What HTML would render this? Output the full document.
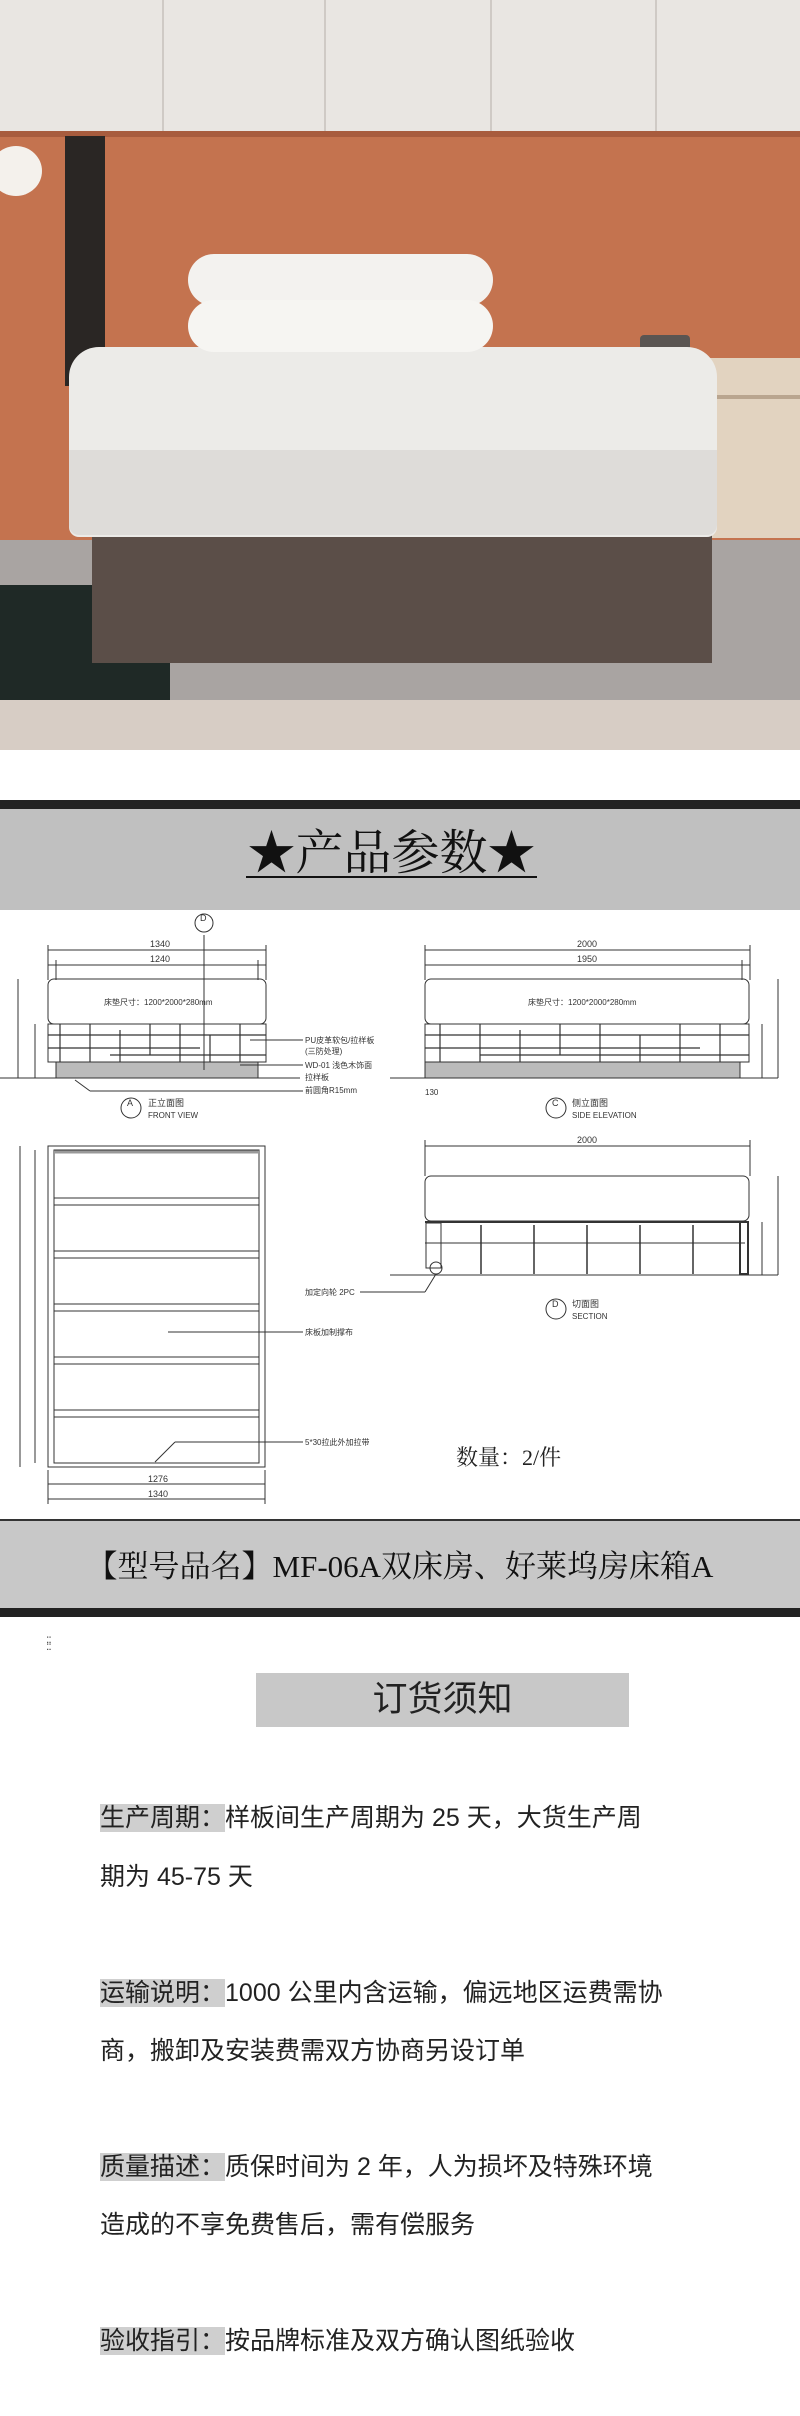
<!DOCTYPE html>
<html><head><meta charset="utf-8"><style>
*{margin:0;padding:0;box-sizing:border-box}
body{width:800px;height:2416px;background:#fff;position:relative;overflow:hidden;font-family:"Liberation Sans","Noto Sans CJK SC",sans-serif}
.a{position:absolute}
.serif{font-family:"Liberation Serif","Noto Serif CJK SC",serif}
.t{position:absolute;left:100px;font-size:25px;color:#222;white-space:nowrap;line-height:30px}
.hl{background:#cfcfcf}
</style></head><body>
<!-- photo -->
<div class="a" style="left:0;top:0;width:800px;height:750px;background:#c4734f;overflow:hidden">
 <div class="a" style="left:0;top:0;width:800px;height:131px;background:#e9e6e2"></div>
 <div class="a" style="left:162px;top:0;width:2px;height:131px;background:#cfcac5"></div>
 <div class="a" style="left:324px;top:0;width:2px;height:131px;background:#cfcac5"></div>
 <div class="a" style="left:490px;top:0;width:2px;height:131px;background:#cfcac5"></div>
 <div class="a" style="left:655px;top:0;width:2px;height:131px;background:#cfcac5"></div>
 <div class="a" style="left:0;top:131px;width:800px;height:6px;background:#a85c3e"></div>
 <div class="a" style="left:65px;top:136px;width:40px;height:250px;background:#2a2624"></div>
 <div class="a" style="left:-10px;top:146px;width:52px;height:50px;border-radius:50%;background:#f4f1ec"></div>
 <div class="a" style="left:593px;top:358px;width:207px;height:180px;background:#e2d3c0"></div>
 <div class="a" style="left:593px;top:395px;width:207px;height:4px;background:#b9a58f"></div>
 <div class="a" style="left:640px;top:335px;width:50px;height:25px;background:#5a5552;border-radius:4px"></div>
 <div class="a" style="left:0;top:540px;width:800px;height:210px;background:#a9a4a2"></div>
 <div class="a" style="left:0;top:585px;width:170px;height:115px;background:#1f2926"></div>
 <div class="a" style="left:0;top:700px;width:800px;height:50px;background:#d7cdc5"></div>
 <div class="a" style="left:92px;top:520px;width:620px;height:143px;background:#5b4e48"></div>
 <div class="a" style="left:69px;top:347px;width:648px;height:190px;background:#ecebe8;border-radius:30px 30px 10px 10px"></div>
 <div class="a" style="left:69px;top:450px;width:648px;height:85px;background:#dedcd9;border-radius:0 0 10px 10px"></div>
 <div class="a" style="left:188px;top:254px;width:305px;height:52px;background:#f3f2ef;border-radius:40px"></div>
 <div class="a" style="left:188px;top:300px;width:305px;height:52px;background:#f6f5f2;border-radius:40px"></div>
</div>
<!-- param header -->
<div class="a" style="left:0;top:800px;width:800px;height:9px;background:#222"></div>
<div class="a" style="left:0;top:809px;width:800px;height:101px;background:#c0c0c0"></div>
<div class="a serif" style="left:246px;top:826px;width:291px;text-align:center;font-size:48px;line-height:56px;color:#111;white-space:nowrap">★产品参数★</div>
<div class="a" style="left:246px;top:876px;width:291px;height:2px;background:#111"></div>
<!-- drawings -->
<svg class="a" style="left:0;top:0" width="800" height="1520" viewBox="0 0 800 1520" fill="none" stroke="#333" stroke-width="1" font-family="Liberation Sans, Noto Sans CJK SC, sans-serif" font-size="9">
 <g>
  <line x1="48" y1="950" x2="266" y2="950"/><line x1="48" y1="965" x2="266" y2="965"/>
  <line x1="48" y1="945" x2="48" y2="980"/><line x1="266" y1="945" x2="266" y2="980"/>
  <line x1="56" y1="960" x2="56" y2="980"/><line x1="258" y1="960" x2="258" y2="980"/>
  <text x="150" y="947" fill="#333" stroke="none">1340</text><text x="150" y="962" fill="#333" stroke="none">1240</text>
  <rect x="48" y="979" width="218" height="45" rx="6"/>
  <text x="104" y="1005" fill="#333" stroke="none" font-size="8">床垫尺寸：1200*2000*280mm</text>
  <rect x="48" y="1024" width="218" height="38"/>
  <g stroke-width="1.2"><line x1="60" y1="1024" x2="60" y2="1062"/><line x1="90" y1="1024" x2="90" y2="1062"/><line x1="120" y1="1030" x2="120" y2="1062"/><line x1="150" y1="1024" x2="150" y2="1055"/><line x1="180" y1="1024" x2="180" y2="1062"/><line x1="210" y1="1035" x2="210" y2="1062"/><line x1="240" y1="1024" x2="240" y2="1062"/>
  <line x1="48" y1="1035" x2="266" y2="1035"/><line x1="48" y1="1048" x2="200" y2="1048"/><line x1="110" y1="1055" x2="266" y2="1055"/></g>
  <rect x="56" y="1062" width="202" height="16" fill="#bbb"/>
  <line x1="0" y1="1078" x2="300" y2="1078"/>
  <line x1="204" y1="935" x2="204" y2="1070"/>
  <circle cx="204" cy="923" r="9"/><text x="200" y="921" fill="#333" stroke="none">D</text>
  <line x1="18" y1="979" x2="18" y2="1078"/><line x1="35" y1="1024" x2="35" y2="1078"/>
  <text fill="#333" stroke="none" font-size="8"><tspan x="305" y="1043">PU皮革软包/拉样板</tspan><tspan x="305" y="1054">(三防处理)</tspan><tspan x="305" y="1068">WD-01 浅色木饰面</tspan><tspan x="305" y="1080">拉样板</tspan><tspan x="305" y="1093">前圆角R15mm</tspan></text>
  <line x1="250" y1="1040" x2="303" y2="1040"/><line x1="240" y1="1065" x2="303" y2="1065"/><line x1="75" y1="1080" x2="90" y2="1091"/><line x1="90" y1="1091" x2="303" y2="1091"/>
  <circle cx="131" cy="1108" r="10"/><text x="127" y="1106" fill="#333" stroke="none">A</text>
  <text x="148" y="1106" fill="#333" stroke="none">正立面图</text><text x="148" y="1118" fill="#333" stroke="none" font-size="8">FRONT VIEW</text>
 </g>
 <g>
  <line x1="425" y1="950" x2="750" y2="950"/><line x1="425" y1="965" x2="750" y2="965"/>
  <line x1="425" y1="945" x2="425" y2="980"/><line x1="750" y1="945" x2="750" y2="980"/><line x1="742" y1="960" x2="742" y2="980"/>
  <text x="577" y="947" fill="#333" stroke="none">2000</text><text x="577" y="962" fill="#333" stroke="none">1950</text>
  <rect x="425" y="979" width="324" height="45" rx="6"/>
  <text x="528" y="1005" fill="#333" stroke="none" font-size="8">床垫尺寸：1200*2000*280mm</text>
  <rect x="425" y="1024" width="324" height="38"/>
  <g stroke-width="1.2"><line x1="440" y1="1024" x2="440" y2="1062"/><line x1="480" y1="1024" x2="480" y2="1062"/><line x1="520" y1="1030" x2="520" y2="1062"/><line x1="560" y1="1024" x2="560" y2="1055"/><line x1="600" y1="1024" x2="600" y2="1062"/><line x1="640" y1="1035" x2="640" y2="1062"/><line x1="680" y1="1024" x2="680" y2="1062"/><line x1="720" y1="1024" x2="720" y2="1062"/>
  <line x1="425" y1="1035" x2="749" y2="1035"/><line x1="425" y1="1048" x2="700" y2="1048"/><line x1="480" y1="1055" x2="749" y2="1055"/></g>
  <rect x="425" y="1062" width="315" height="16" fill="#bbb"/>
  <line x1="390" y1="1078" x2="778" y2="1078"/>
  <line x1="778" y1="979" x2="778" y2="1078"/><line x1="762" y1="1024" x2="762" y2="1078"/>
  <text x="425" y="1095" fill="#333" stroke="none" font-size="8">130</text>
  <circle cx="556" cy="1108" r="10"/><text x="552" y="1106" fill="#333" stroke="none">C</text>
  <text x="572" y="1106" fill="#333" stroke="none">侧立面图</text><text x="572" y="1118" fill="#333" stroke="none" font-size="8">SIDE ELEVATION</text>
 </g>
 <g>
  <rect x="48" y="1146" width="217" height="321"/><rect x="54" y="1150" width="205" height="313"/>
  <line x1="54" y1="1152" x2="259" y2="1152" stroke-width="3" stroke="#999"/>
  <g stroke-width="1"><line x1="54" y1="1198" x2="259" y2="1198"/><line x1="54" y1="1205" x2="259" y2="1205"/>
  <line x1="54" y1="1251" x2="259" y2="1251"/><line x1="54" y1="1258" x2="259" y2="1258"/>
  <line x1="54" y1="1304" x2="259" y2="1304"/><line x1="54" y1="1311" x2="259" y2="1311"/>
  <line x1="54" y1="1357" x2="259" y2="1357"/><line x1="54" y1="1364" x2="259" y2="1364"/>
  <line x1="54" y1="1410" x2="259" y2="1410"/><line x1="54" y1="1417" x2="259" y2="1417"/></g>
  <line x1="20" y1="1146" x2="20" y2="1467"/><line x1="35" y1="1150" x2="35" y2="1463"/>
  <line x1="48" y1="1484" x2="265" y2="1484"/><line x1="48" y1="1499" x2="265" y2="1499"/>
  <line x1="48" y1="1470" x2="48" y2="1504"/><line x1="265" y1="1470" x2="265" y2="1504"/>
  <text x="148" y="1482" fill="#333" stroke="none">1276</text><text x="148" y="1497" fill="#333" stroke="none">1340</text>
  <line x1="168" y1="1332" x2="303" y2="1332"/><text x="305" y="1335" fill="#333" stroke="none" font-size="8">床板加制撑布</text>
  <line x1="155" y1="1462" x2="175" y2="1442"/><line x1="175" y1="1442" x2="303" y2="1442"/><text x="305" y="1445" fill="#333" stroke="none" font-size="8">5*30拉此外加拉带</text>
 </g>
 <g>
  <line x1="425" y1="1146" x2="750" y2="1146"/><text x="577" y="1143" fill="#333" stroke="none">2000</text>
  <line x1="425" y1="1140" x2="425" y2="1176"/><line x1="750" y1="1140" x2="750" y2="1176"/>
  <rect x="425" y="1176" width="324" height="45" rx="6"/>
  <line x1="425" y1="1222" x2="745" y2="1222" stroke-width="2"/>
  <line x1="425" y1="1243" x2="745" y2="1243"/>
  <rect x="426" y="1223" width="15" height="45"/>
  <circle cx="436" cy="1268" r="6"/>
  <g stroke-width="1.5"><line x1="481" y1="1225" x2="481" y2="1274"/><line x1="534" y1="1225" x2="534" y2="1274"/><line x1="587" y1="1225" x2="587" y2="1274"/><line x1="640" y1="1225" x2="640" y2="1274"/><line x1="693" y1="1225" x2="693" y2="1274"/></g>
  <rect x="740" y="1222" width="8" height="52" stroke-width="2"/>
  <line x1="390" y1="1275" x2="778" y2="1275"/>
  <line x1="778" y1="1176" x2="778" y2="1275"/><line x1="762" y1="1222" x2="762" y2="1275"/>
  <line x1="436" y1="1274" x2="425" y2="1292"/><line x1="425" y1="1292" x2="360" y2="1292"/>
  <text x="305" y="1295" fill="#333" stroke="none" font-size="8">加定向轮 2PC</text>
  <circle cx="556" cy="1309" r="10"/><text x="552" y="1307" fill="#333" stroke="none">D</text>
  <text x="572" y="1307" fill="#333" stroke="none">切面图</text><text x="572" y="1319" fill="#333" stroke="none" font-size="8">SECTION</text>
 </g>
 <text x="456" y="1465" fill="#222" stroke="none" font-size="22" font-family="Liberation Serif, Noto Serif CJK SC, serif">数量：2/件</text>
</svg>
<!-- model band -->
<div class="a" style="left:0;top:1519px;width:800px;height:2px;background:#333"></div>
<div class="a" style="left:0;top:1521px;width:800px;height:87px;background:#c8c8c8"></div>
<div class="a" style="left:0;top:1608px;width:800px;height:9px;background:#222"></div>
<div class="a serif" style="left:0;top:1547px;width:800px;text-align:center;font-size:31px;line-height:40px;color:#111;white-space:nowrap">【型号品名】MF-06A双床房、好莱坞房床箱A</div>
<div class="a" style="left:46px;top:1636px;font-size:12px;line-height:7px;color:#444;letter-spacing:-1px">::<br>::</div>
<div class="a" style="left:256px;top:1673px;width:373px;height:54px;background:#c8c8c8"></div>
<div class="a" style="left:256px;top:1678px;width:373px;text-align:center;font-size:35px;line-height:44px;color:#222">订货须知</div>
<div class="t" style="top:1803px"><span class="hl">生产周期：</span>样板间生产周期为 25 天，大货生产周</div>
<div class="t" style="top:1862px">期为 45-75 天</div>
<div class="t" style="top:1978px"><span class="hl">运输说明：</span>1000 公里内含运输，偏远地区运费需协</div>
<div class="t" style="top:2036px">商，搬卸及安装费需双方协商另设订单</div>
<div class="t" style="top:2152px"><span class="hl">质量描述：</span>质保时间为 2 年，人为损坏及特殊环境</div>
<div class="t" style="top:2210px">造成的不享免费售后，需有偿服务</div>
<div class="t" style="top:2326px"><span class="hl">验收指引：</span>按品牌标准及双方确认图纸验收</div>
</body></html>
